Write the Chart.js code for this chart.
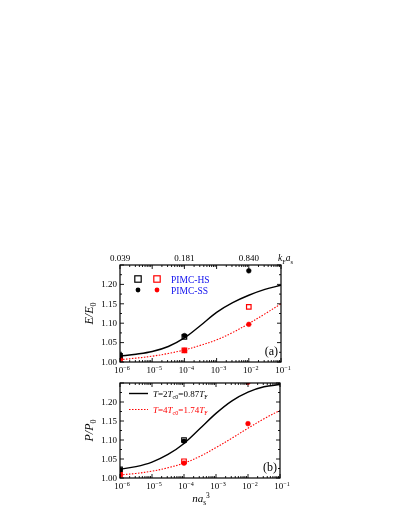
<!DOCTYPE html>
<html><head><meta charset="utf-8">
<script src="https://cdn.jsdelivr.net/npm/chart.js@4/dist/chart.umd.min.js"></script>
<style>
html,body{margin:0;padding:0;background:#fff;width:399px;height:516px;overflow:hidden}
canvas{position:absolute;left:0;top:0}
</style></head>
<body>
<canvas id="ca" width="399" height="516"></canvas>
<canvas id="cb" width="399" height="516"></canvas>
<script>
// ---- data ----
const xTickValues = [1e-6, 1e-5, 1e-4, 1e-3, 1e-2, 1e-1];
const xTickExps = ['-6', '-5', '-4', '-3', '-2', '-1'];
const yTickValues = [1.00, 1.05, 1.10, 1.15, 1.20];
const yTickLabels = ['1.00', '1.05', '1.10', '1.15', '1.20'];
const pointX = [1e-6, 1e-4, 1e-2];
const kfLabels = ['0.039', '0.181', '0.840'];
const curveX = [1e-6, 3.16e-6, 1e-5, 3.16e-5, 1e-4, 3.16e-4, 1e-3, 3.16e-3, 1e-2, 3.16e-2, 1e-1];

// panel (a): E/E0
const aCurveT2 = [1.015, 1.020, 1.027, 1.040, 1.062, 1.094, 1.128, 1.153, 1.172, 1.187, 1.198];
const aCurveT4 = [1.006, 1.010, 1.015, 1.022, 1.031, 1.043, 1.057, 1.076, 1.099, 1.124, 1.150];
const aHSblack = [1.016, 1.065, null];
const aSSblack = [1.016, 1.068, 1.235];
const aHSred = [1.005, 1.030, 1.142];
const aSSred = [1.008, 1.030, 1.097];

// panel (b): P/P0
const bCurveT2 = [1.023, 1.030, 1.042, 1.062, 1.091, 1.130, 1.170, 1.203, 1.226, 1.240, 1.246];
const bCurveT4 = [1.008, 1.012, 1.018, 1.027, 1.039, 1.057, 1.080, 1.105, 1.131, 1.156, 1.178];
const bHSblack = [1.023, 1.100, null];
const bSSblack = [1.022, 1.097, null];
const bHSred = [1.009, 1.044, null];
const bSSred = [1.009, 1.039, 1.143];
const bSSredTop = [null, null, 1.252];

// ---- helpers ----
const FONT = '"Liberation Serif", "Times New Roman", serif';
function pts(xs, ys) { return xs.map((x, i) => ({x: x, y: ys[i]})).filter(p => p.y !== null); }
function fontFor(mode, size) {
  const it = mode[0] === 'i';
  const small = mode.length > 1;
  return (it ? 'italic ' : '') + (small ? size * 0.68 : size) + 'px ' + FONT;
}
function drawRich(ctx, x, y, parts, align, size, color) {
  ctx.save();
  ctx.fillStyle = color || '#000';
  ctx.textBaseline = 'alphabetic';
  ctx.textAlign = 'left';
  let w = 0;
  parts.forEach(p => { ctx.font = fontFor(p[1], size); w += ctx.measureText(p[0]).width; });
  let cx = align === 'center' ? x - w / 2 : align === 'right' ? x - w : x;
  parts.forEach(p => {
    ctx.font = fontFor(p[1], size);
    let dy = 0;
    if (p[1].endsWith('s')) dy = size * 0.28;
    if (p[1].endsWith('p')) dy = -size * 0.38;
    ctx.fillText(p[0], cx, y + dy);
    cx += ctx.measureText(p[0]).width;
  });
  ctx.restore();
  return w;
}
function lineDs(ys, color, dashed) {
  return {data: pts(curveX, ys), showLine: true, pointRadius: 0, borderColor: color,
    borderWidth: dashed ? 1.1 : 1.4, borderDash: dashed ? [1.5, 1.5] : [], tension: 0.35,
    fill: false, order: 2};
}
function sqDs(ys, color) {
  return {data: pts(pointX, ys), showLine: false, pointStyle: 'rect', pointRadius: 3.2,
    borderColor: color, backgroundColor: 'rgba(255,255,255,0)', pointBorderWidth: 1.2, order: 1};
}
function ciDs(ys, color) {
  return {data: pts(pointX, ys), showLine: false, pointStyle: 'circle', pointRadius: 2.4,
    borderColor: color, backgroundColor: color, pointBorderWidth: 0.5, order: 0};
}

function decoPlugin(cfg) {
  return {
    id: 'deco',
    afterDraw(chart) {
      const ctx = chart.ctx, a = chart.chartArea, xs = chart.scales.x, ys = chart.scales.y;
      ctx.save();
      ctx.strokeStyle = '#000';
      ctx.lineWidth = 1.2;
      ctx.strokeRect(a.left, a.top, a.right - a.left, a.bottom - a.top);
      ctx.lineWidth = 0.9;
      ctx.beginPath();
      for (let d = -6; d <= -1; d++) {
        const base = Math.pow(10, d);
        const px = xs.getPixelForValue(base);
        ctx.moveTo(px, a.bottom); ctx.lineTo(px, a.bottom - 4);
        ctx.moveTo(px, a.top); ctx.lineTo(px, a.top + 4);
        if (d < -1) {
          for (let k = 2; k <= 9; k++) {
            const mx = xs.getPixelForValue(k * base);
            ctx.moveTo(mx, a.bottom); ctx.lineTo(mx, a.bottom - 2);
            ctx.moveTo(mx, a.top); ctx.lineTo(mx, a.top + 2);
          }
        }
      }
      for (let i = 0; i <= 10; i++) {
        const v = 1 + i * 0.025;
        const py = ys.getPixelForValue(v);
        const len = (i % 2 === 0) ? 4 : 2;
        ctx.moveTo(a.left, py); ctx.lineTo(a.left + len, py);
        ctx.moveTo(a.right, py); ctx.lineTo(a.right - len, py);
      }
      ctx.stroke();

      ctx.fillStyle = '#000';
      ctx.font = '9px ' + FONT;
      ctx.textAlign = 'right';
      ctx.textBaseline = 'middle';
      yTickValues.forEach((v, i) => ctx.fillText(yTickLabels[i], a.left - 3, ys.getPixelForValue(v) + 0.5));
      xTickValues.forEach((v, i) => {
        drawRich(ctx, xs.getPixelForValue(v) + 2, a.bottom + 11, [['10', 'n'], ['\u2212' + xTickExps[i].slice(1), 'np']], 'center', 9);
      });
      ctx.save();
      ctx.translate(cfg.yTitleX, (a.top + a.bottom) / 2);
      ctx.rotate(-Math.PI / 2);
      drawRich(ctx, 0, 0, cfg.yTitle, 'center', 12);
      ctx.restore();
      ctx.font = '12px ' + FONT;
      ctx.textAlign = 'right';
      ctx.textBaseline = 'alphabetic';
      ctx.fillText(cfg.panel, a.right - 3, a.bottom - 7);
      if (cfg.extra) cfg.extra(ctx, a, xs, ys);
      ctx.restore();
    }
  };
}

function square(ctx, x, y, color) {
  ctx.strokeStyle = color; ctx.lineWidth = 1.2;
  ctx.strokeRect(x - 3.2, y - 3.2, 6.4, 6.4);
}
function dot(ctx, x, y, color) {
  ctx.fillStyle = color; ctx.beginPath(); ctx.arc(x, y, 2.4, 0, Math.PI * 2); ctx.fill();
}

const common = {
  type: 'scatter',
  options: {
    responsive: false, animation: false, events: [], devicePixelRatio: 1,
    plugins: {legend: {display: false}, tooltip: {enabled: false}},
    scales: {
      x: {type: 'logarithmic', min: 1e-6, max: 1e-1, display: false},
      y: {type: 'linear', min: 1.0, max: 1.25, display: false}
    }
  }
};
function mk(id, datasets, padding, plugin) {
  const c = JSON.parse(JSON.stringify(common));
  c.options.layout = {padding: padding};
  c.data = {datasets: datasets};
  c.plugins = [plugin];
  return new Chart(document.getElementById(id), c);
}

mk('ca', [
  ciDs(aSSblack, '#000'), ciDs(aSSred, '#ff0000'),
  sqDs(aHSblack, '#000'), sqDs(aHSred, '#ff0000'),
  lineDs(aCurveT2, '#000', false), lineDs(aCurveT4, '#ff0000', true)
], {left: 120, right: 118, top: 265, bottom: 154}, decoPlugin({
  panel: '(a)', yTitleX: 93,
  yTitle: [['E', 'i'], ['/', 'i'], ['E', 'i'], ['0', 'ns']],
  extra(ctx, a, xs, ys) {
    ctx.font = '9px ' + FONT; ctx.fillStyle = '#000';
    ctx.textAlign = 'center'; ctx.textBaseline = 'alphabetic';
    pointX.forEach((v, i) => ctx.fillText(kfLabels[i], xs.getPixelForValue(v), a.top - 4));
    drawRich(ctx, a.right - 3, a.top - 4, [['k', 'i'], ['F', 'ns'], ['a', 'i'], ['s', 'ns']], 'left', 9.5);
    square(ctx, 138, 279, '#000'); square(ctx, 157, 279, '#ff0000');
    dot(ctx, 138, 290, '#000'); dot(ctx, 157, 290, '#ff0000');
    drawRich(ctx, 171, 282.5, [['PIMC-HS', 'n']], 'left', 9.5, '#1010ee');
    drawRich(ctx, 171, 293.5, [['PIMC-SS', 'n']], 'left', 9.5, '#1010ee');
  }
}));

mk('cb', [
  ciDs(bSSblack, '#000'), ciDs(bSSred, '#ff0000'), ciDs(bSSredTop, '#ff0000'),
  sqDs(bHSblack, '#000'), sqDs(bHSred, '#ff0000'),
  lineDs(bCurveT2, '#000', false), lineDs(bCurveT4, '#ff0000', true)
], {left: 120, right: 119, top: 383, bottom: 38}, decoPlugin({
  panel: '(b)', yTitleX: 93,
  yTitle: [['P', 'i'], ['/', 'i'], ['P', 'i'], ['0', 'ns']],
  extra(ctx, a, xs, ys) {
    drawRich(ctx, 201, a.bottom + 24, [['na', 'i'], ['s', 'ns'], ['3', 'np']], 'center', 11);
    ctx.strokeStyle = '#000'; ctx.lineWidth = 1.4; ctx.setLineDash([]);
    ctx.beginPath(); ctx.moveTo(129, 393.5); ctx.lineTo(148, 393.5); ctx.stroke();
    ctx.strokeStyle = '#ff0000'; ctx.lineWidth = 1.1; ctx.setLineDash([1.5, 1.5]);
    ctx.beginPath(); ctx.moveTo(129, 409.5); ctx.lineTo(148, 409.5); ctx.stroke();
    ctx.setLineDash([]);
    drawRich(ctx, 153, 396.5, [['T', 'i'], ['=2', 'n'], ['T', 'i'], ['c0', 'ns'], ['=0.87', 'n'], ['T', 'i'], ['F', 'ns']], 'left', 9, '#000');
    drawRich(ctx, 153, 412.5, [['T', 'i'], ['=4', 'n'], ['T', 'i'], ['c0', 'ns'], ['=1.74', 'n'], ['T', 'i'], ['F', 'ns']], 'left', 9, '#ff0000');
  }
}));
</script>
</body></html>
